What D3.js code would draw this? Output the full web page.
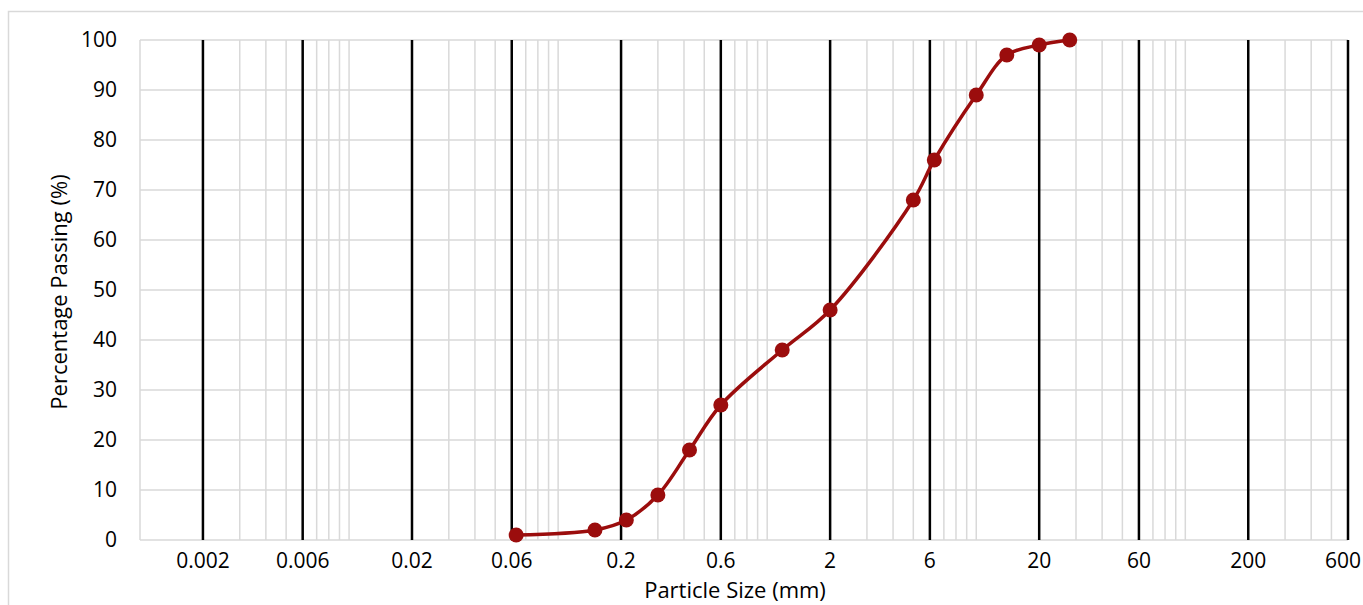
<!DOCTYPE html>
<html>
<head>
    <meta charset="utf-8">
    <script src="https://d3js.org/d3.v7.min.js"></script>
    <style>
        body { margin: 0; background: #fff; }
        text { font-family: "Open Sans", Lato, sans-serif; fill: #000; }
    </style>
</head>
<body>
    <svg id="chart"></svg>

    <script>
        // Sieve sizes (mm) and percentage passing
        const sizes = [0.063, 0.15, 0.212, 0.3, 0.425, 0.6, 1.18, 2, 5, 6.3, 10, 14, 20, 28];
        const passing = [1, 2, 4, 9, 18, 27, 38, 46, 68, 76, 89, 97, 99, 100];

        // Black reference lines, also used as x labels
        const refSizes = [0.002, 0.006, 0.02, 0.06, 0.2, 0.6, 2, 6, 20, 60, 200, 600];
        const refLabels = ["0.002", "0.006", "0.02", "0.06", "0.2", "0.6", "2", "6", "20", "60", "200", "600"];

        const yTicks = [0, 10, 20, 30, 40, 50, 60, 70, 80, 90, 100];

        const width = 1363;
        const height = 605;

        const svg = d3.select("#chart")
            .attr("width", width)
            .attr("height", height);

        // chart border (cropped on the right and bottom like the original)
        svg.append("rect")
            .attr("x", 8.5)
            .attr("y", 11.5)
            .attr("width", 1400)
            .attr("height", 700)
            .attr("fill", "#fff")
            .attr("stroke", "#d9d9d9")
            .attr("stroke-width", 1.5);

        const x = d3.scaleLog()
            .domain([0.001, 600])
            .range([140, 1348]);

        const y = d3.scaleLinear()
            .domain([0, 100])
            .range([540, 40]);

        // light gridlines
        const grid = svg.append("g").attr("stroke", "#d9d9d9").attr("stroke-width", 1.5);

        grid.selectAll("line.h")
            .data(yTicks)
            .enter()
            .append("line")
            .attr("x1", x.range()[0])
            .attr("x2", x.range()[1])
            .attr("y1", d => y(d))
            .attr("y2", d => y(d));

        grid.selectAll("line.v")
            .data(x.ticks())
            .enter()
            .append("line")
            .attr("x1", d => x(d))
            .attr("x2", d => x(d))
            .attr("y1", y(0))
            .attr("y2", y(100));

        // y tick labels
        svg.append("g")
            .selectAll("text")
            .data(yTicks)
            .enter()
            .append("text")
            .attr("x", 117)
            .attr("y", d => y(d))
            .attr("dy", "0.35em")
            .attr("text-anchor", "end")
            .style("font-size", "21px")
            .text(d => d);

        // black reference lines
        svg.append("g")
            .selectAll("line")
            .data(refSizes)
            .enter()
            .append("line")
            .attr("x1", d => x(d))
            .attr("x2", d => x(d))
            .attr("y1", y(0))
            .attr("y2", y(100))
            .attr("stroke", "#000")
            .attr("stroke-width", 2.5);

        // x labels, kept inside the picture at the right edge
        svg.append("g")
            .selectAll("text")
            .data(refSizes)
            .enter()
            .append("text")
            .attr("y", 561)
            .attr("dy", "0.35em")
            .attr("text-anchor", "middle")
            .style("font-size", "21px")
            .text((d, i) => refLabels[i])
            .attr("x", function (d) {
                const half = this.getComputedTextLength() / 2;
                return Math.min(x(d), width - 2 - half);
            });

        // grading curve
        const pts = sizes.map((s, i) => [s, passing[i]]);
        const red = "#9b0d0d";

        svg.append("path")
            .datum(pts)
            .attr("fill", "none")
            .attr("stroke", red)
            .attr("stroke-width", 3.5)
            .attr("d", d3.line()
                .x(d => x(d[0]))
                .y(d => y(d[1]))
                .curve(d3.curveCatmullRom.alpha(0.5)));

        svg.append("g")
            .selectAll("circle")
            .data(pts)
            .enter()
            .append("circle")
            .attr("cx", d => x(d[0]))
            .attr("cy", d => y(d[1]))
            .attr("r", 7.5)
            .attr("fill", red);

        // axis titles
        svg.append("text")
            .attr("x", 735)
            .attr("y", 590)
            .attr("dy", "0.35em")
            .attr("text-anchor", "middle")
            .style("font-size", "22px")
            .text("Particle Size (mm)");

        svg.append("text")
            .attr("transform", "translate(59,292) rotate(-90)")
            .attr("dy", "0.35em")
            .attr("text-anchor", "middle")
            .style("font-size", "22px")
            .text("Percentage Passing (%)");
    </script>
</body>
</html>
